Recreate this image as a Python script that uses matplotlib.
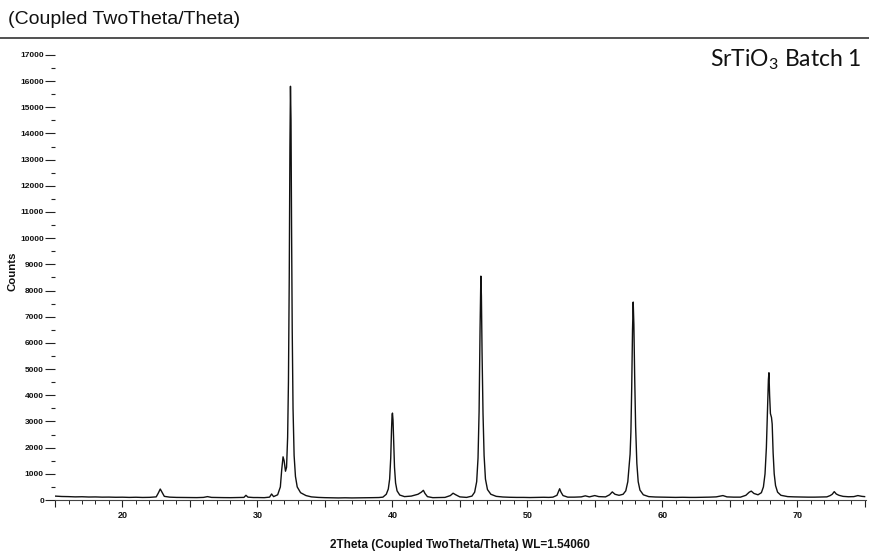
import matplotlib
matplotlib.use("Agg")
import matplotlib.pyplot as plt
from matplotlib.ticker import MultipleLocator, FuncFormatter
from matplotlib.lines import Line2D

plt.rcParams['font.family'] = ['Liberation Sans', 'DejaVu Sans']

# Diffractogram trace: 2theta (deg) and intensity (counts)
two_theta = [
    15.0, 15.5, 16.0, 16.5, 17.0, 17.5, 18.0, 18.5, 19.0, 19.5, 20.0, 20.5, 21.0, 21.5, 22.0,
    22.5, 22.65, 22.8, 22.95, 23.1, 23.5, 24.0, 24.5, 25.0, 25.5, 26.0, 26.3, 26.6, 27.0, 27.5,
    28.0, 28.5, 29.0, 29.15, 29.3, 29.7, 30.0, 30.5, 30.9, 31.05, 31.2, 31.5, 31.7, 31.8, 31.9,
    31.98, 32.08, 32.16, 32.24, 32.30, 32.36, 32.41, 32.45, 32.49, 32.53, 32.58, 32.64, 32.72, 32.82, 32.95,
    33.2, 33.6, 34.0, 34.5, 35.0, 35.5, 36.0, 36.5, 37.0, 37.5, 38.0, 38.5, 39.0, 39.3, 39.55,
    39.7, 39.8, 39.88, 39.94, 39.98, 40.01, 40.05, 40.10, 40.16, 40.24, 40.35, 40.55, 40.9, 41.4, 41.9,
    42.15, 42.3, 42.42, 42.6, 43.0, 43.5, 43.9, 44.3, 44.5, 44.7, 45.0, 45.5, 45.9, 46.1, 46.25,
    46.35, 46.43, 46.50, 46.56, 46.60, 46.65, 46.72, 46.80, 46.90, 47.05, 47.3, 47.7, 48.2, 48.7, 49.2,
    49.7, 50.2, 50.7, 51.2, 51.6, 51.9, 52.2, 52.3, 52.4, 52.5, 52.65, 53.0, 53.5, 54.0, 54.3,
    54.6, 55.0, 55.3, 55.8, 56.1, 56.3, 56.5, 56.8, 57.1, 57.3, 57.45, 57.55, 57.62, 57.68, 57.74,
    57.80, 57.85, 57.90, 57.96, 58.03, 58.12, 58.22, 58.35, 58.6, 59.0, 59.5, 60.0, 60.5, 61.0, 61.5,
    62.0, 62.5, 63.0, 63.5, 64.0, 64.5, 64.8, 65.3, 65.8, 66.2, 66.45, 66.6, 66.8, 67.1, 67.35,
    67.5, 67.62, 67.72, 67.80, 67.87, 67.91, 67.96, 68.02, 68.10, 68.15, 68.22, 68.30, 68.40, 68.55, 68.8,
    69.3, 69.8, 70.3, 70.8, 71.3, 71.8, 72.2, 72.45, 72.6, 72.75, 72.9, 73.1, 73.4, 73.8, 74.2,
    74.5, 74.8, 75.0,
]
counts = [
    150, 135, 130, 120, 125, 115, 118, 110, 112, 105, 108, 100, 106, 98, 102,
    120, 260, 420, 280, 140, 110, 100, 98, 95, 92, 100, 130, 100, 95, 92,
    90, 95, 100, 180, 110, 95, 95, 90, 110, 230, 130, 200, 500, 1150, 1650,
    1500, 1100, 1250, 2400, 4500, 8500, 13500, 15800, 14500, 10500, 6500, 3500, 1700, 900, 500,
    280, 170, 120, 100, 90, 85, 80, 85, 80, 82, 85, 90, 95, 110, 220,
    420, 800, 1600, 2700, 3250, 3320, 3050, 2200, 1250, 650, 350, 190, 130, 150, 220,
    300, 370, 250, 130, 90, 95, 100, 170, 260, 200, 120, 100, 150, 300, 700,
    1600, 3400, 6500, 8550, 7800, 5600, 3300, 1700, 800, 400, 220, 140, 115, 105, 100,
    100, 95, 100, 105, 100, 110, 180, 300, 430, 300, 170, 110, 110, 120, 160,
    120, 170, 130, 120, 200, 310, 220, 180, 220, 350, 700, 1300, 1750, 2600, 4300,
    6500, 7560, 6700, 4700, 2800, 1400, 700, 380, 200, 130, 115, 110, 105, 100, 105,
    100, 100, 105, 110, 120, 170, 120, 110, 110, 180, 300, 340, 250, 200, 280,
    500, 1000, 2000, 3400, 4600, 4860, 4000, 3300, 3150, 2900, 1800, 1000, 550, 300, 180,
    130, 120, 115, 110, 110, 115, 120, 170, 220, 320, 230, 180, 140, 125, 130,
    170, 140, 130,
]

x_range = (15.0, 75.1)
y_range = (0, 17300)
x_label_values = [20, 30, 40, 50, 60, 70]

fig = plt.figure(figsize=(8.69, 5.53), dpi=100)
ax = fig.add_axes([0.0633, 0.0958, 0.9332, 0.8192])

ax.plot(two_theta, counts, color='#111111', lw=1.0)

ax.set_xlim(*x_range)
ax.set_ylim(*y_range)

for side in ('top', 'right', 'left'):
    ax.spines[side].set_visible(False)
ax.spines['bottom'].set_color('#444444')
ax.spines['bottom'].set_linewidth(0.8)

ax.yaxis.set_major_locator(MultipleLocator(1000))
ax.yaxis.set_minor_locator(MultipleLocator(500))
ax.xaxis.set_major_locator(MultipleLocator(5))
ax.xaxis.set_minor_locator(MultipleLocator(1))
ax.xaxis.set_major_formatter(FuncFormatter(
    lambda v, p: f"{int(round(v))}" if int(round(v)) in x_label_values else ""))

ax.tick_params(axis='y', which='major', length=7, width=0.8, pad=1,
               labelsize=6, color='#222222', labelcolor='#111111')
ax.tick_params(axis='y', which='minor', length=3, width=0.8, color='#222222')
ax.tick_params(axis='x', which='major', length=5, width=0.8, pad=3,
               labelsize=6.5, color='#222222', labelcolor='#111111')
ax.tick_params(axis='x', which='minor', length=3, width=0.7, color='#222222')
for lbl in ax.get_xticklabels() + ax.get_yticklabels():
    lbl.set_fontweight('bold')

fig.text(0.5297, 1 - 545 / 553, '2Theta (Coupled TwoTheta/Theta) WL=1.54060',
         ha='center', va='center', fontsize=8.5, fontweight='bold', color='#111111')
fig.text(12.5 / 869, 1 - 271 / 553, 'Counts', rotation=90, ha='center', va='center',
         fontsize=8.2, fontweight='bold', color='#111111')

fig.text(8 / 869, 1 - 19 / 553, '(Coupled TwoTheta/Theta)', ha='left', va='center',
         fontsize=14, color='#111111')
fig.add_artist(Line2D([0, 1], [1 - 38 / 553, 1 - 38 / 553], transform=fig.transFigure,
                      color='#333333', lw=1.2))

fig.text(862 / 869, 1 - 60 / 553, r'SrTiO$_\mathregular{3}$ Batch 1', ha='right',
         va='center', fontsize=16.5, color='#111111', family=['Lato', 'DejaVu Sans'])

fig.savefig('out.png', dpi=100)
